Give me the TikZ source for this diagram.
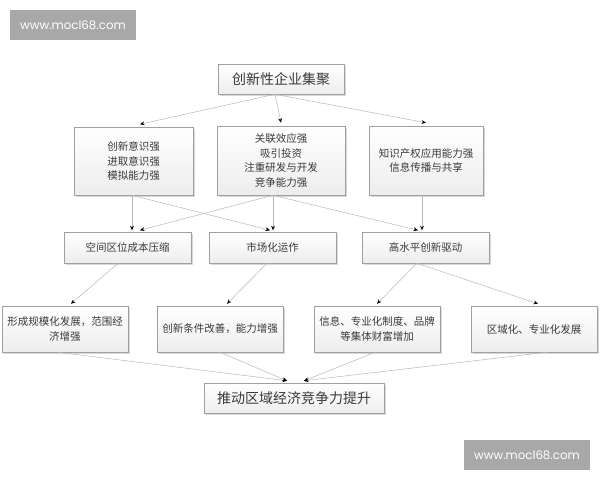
\documentclass[tikz,border=0pt]{standalone}
\usepackage{fontspec}
\newfontfamily\cjk{Noto Sans CJK SC}
\newfontfamily\wmfont{Poppins}
\usetikzlibrary{arrows.meta,shadows}
\definecolor{boxline}{HTML}{A0A0A0}
\definecolor{txt}{HTML}{3A3A3A}
\definecolor{wm}{HTML}{A8A8A8}
\definecolor{conn}{HTML}{B8B8B8}
\tikzset{
  box/.style={draw=boxline, line width=0.5pt, top color=white, bottom color=gray!14,
    drop shadow={shadow xshift=1.5pt, shadow yshift=-1.5pt, fill=gray!60, opacity=0.5},
    text=txt, align=center, inner sep=2pt,
    font=\cjk\fontsize{10.5}{14.5}\selectfont},
  bigbox/.style={box, font=\cjk\fontsize{14}{18}\selectfont},
  conn/.style={draw=conn, line width=0.5pt, -{Stealth[length=4.5pt,width=3.8pt,black]}},
  wmark/.style={fill=wm, text=white, inner sep=0pt, font=\wmfont\fontsize{11.8}{14}\selectfont}
}
\begin{document}
\begin{tikzpicture}[x=1pt,y=-1pt]
\useasboundingbox (0,0) rectangle (600,480);
\fill[white] (0,0) rectangle (600,480);
% watermarks
\node[wmark, minimum width=126pt, minimum height=30pt] (wm1) at (73,25) {www.mocl68.com};
\node[wmark, minimum width=126pt, minimum height=30pt] (wm2) at (527,455) {www.mocl68.com};
% nodes
\node[bigbox, minimum width=126pt, minimum height=30pt] (top) at (281,79) {创新性企业集聚};
\node[box, minimum width=119pt, minimum height=68pt] (r2a) at (133.5,161) {创新意识强\\进取意识强\\模拟能力强};
\node[box, minimum width=128pt, minimum height=69pt] (r2b) at (281,160.5) {关联效应强\\吸引投资\\注重研发与开发\\竞争能力强};
\node[box, minimum width=114pt, minimum height=69pt] (r2c) at (426,160.5) {知识产权应用能力强\\信息传播与共享};
\node[box, minimum width=127pt, minimum height=31pt] (r3a) at (127.5,247.5) {空间区位成本压缩};
\node[box, minimum width=127pt, minimum height=31pt] (r3b) at (272.5,247.5) {市场化运作};
\node[box, minimum width=127pt, minimum height=31pt] (r3c) at (425.5,247.5) {高水平创新驱动};
\node[box, minimum width=126pt, minimum height=46pt] (r4a) at (65,329) {形成规模化发展，范围经\\济增强};
\node[box, minimum width=126pt, minimum height=46pt] (r4b) at (220,329) {创新条件改善，能力增强};
\node[box, minimum width=126pt, minimum height=46pt] (r4c) at (377,329) {信息、专业化制度、品牌\\等集体财富增加};
\node[box, minimum width=126pt, minimum height=46pt] (r4d) at (534,329) {区域化、专业化发展};
\node[bigbox, minimum width=180pt, minimum height=30pt] (bot) at (294,398) {推动区域经济竞争力提升};
% connectors
\draw[conn] ([xshift=-6pt]top.south) -- ([xshift=6.5pt,yshift=2.5pt]r2a.north);
\draw[conn] ([xshift=-6pt]top.south) -- ([yshift=3pt]r2b.north);
\draw[conn] ([xshift=-6pt]top.south) -- ([yshift=3pt]r2c.north);
\draw[conn] ([xshift=-1.5pt]r2a.south) -- ([xshift=4.5pt,yshift=1.5pt]r3a.north);
\draw[conn] ([xshift=-1.5pt]r2a.south) -- ([xshift=-2.5pt,yshift=1.5pt]r3b.north);
\draw[conn] ([xshift=-8pt]r2b.south) -- ([xshift=12.5pt,yshift=1.5pt]r3a.north);
\draw[conn] ([xshift=-8pt]r2b.south) -- ([xshift=0.5pt,yshift=1.5pt]r3b.north);
\draw[conn] ([xshift=-8pt]r2b.south) -- ([xshift=-7.5pt,yshift=1.5pt]r3c.north);
\draw[conn] ([xshift=-4pt]r2c.south) -- ([xshift=-3.5pt,yshift=1.5pt]r3c.north);
\draw[conn] ([xshift=-9.5pt]r3a.south) -- ([xshift=6pt,yshift=2pt]r4a.north);
\draw[conn] ([xshift=-5.5pt]r3b.south) -- ([xshift=7pt,yshift=2pt]r4b.north);
\draw[conn] ([xshift=-8.5pt]r3c.south) -- ([yshift=2pt]r4c.north);
\draw[conn] ([xshift=-8.5pt]r3c.south) -- ([xshift=4pt,yshift=2pt]r4d.north);
\draw[conn] ([xshift=-7pt]r4a.south) -- ([xshift=-7pt,yshift=2pt]bot.north);
\draw[conn] (r4b.south) -- ([xshift=-7pt,yshift=2pt]bot.north);
\draw[conn] ([xshift=-2pt]r4c.south) -- ([xshift=10pt,yshift=2pt]bot.north);
\draw[conn] ([xshift=13pt]r4d.south) -- ([xshift=10pt,yshift=2pt]bot.north);
\end{tikzpicture}
\end{document}
